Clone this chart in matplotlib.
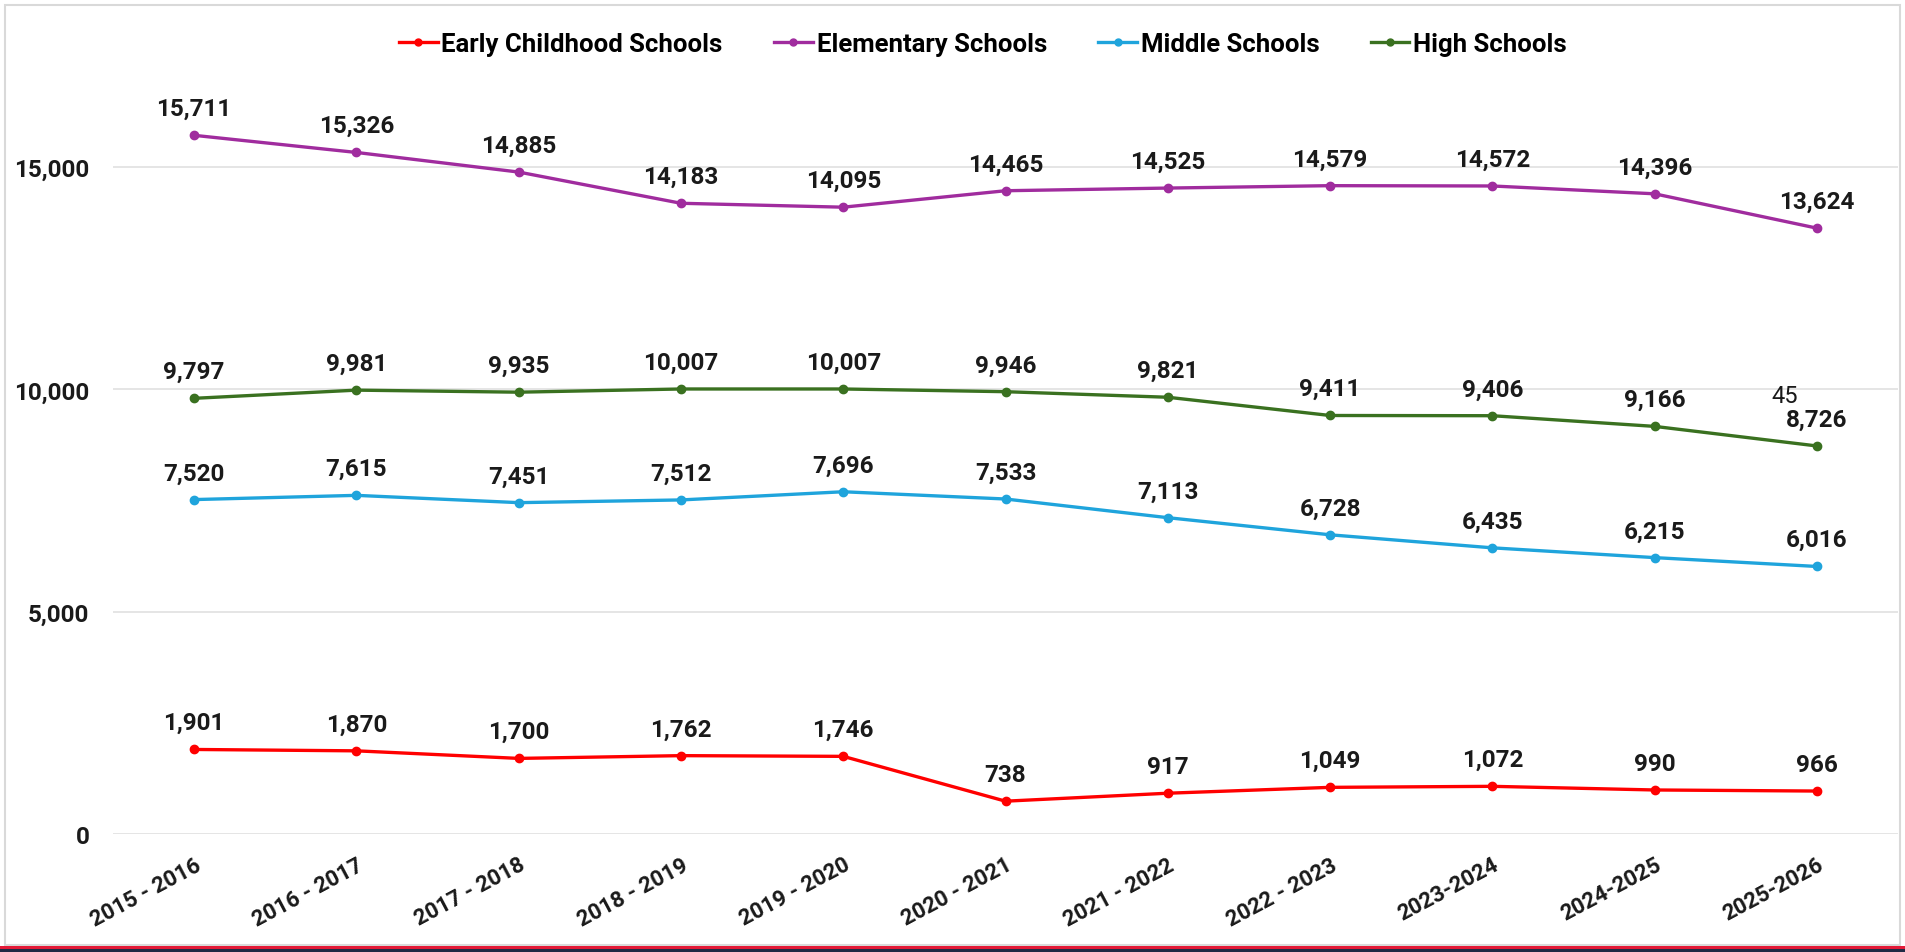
import matplotlib
matplotlib.use("Agg")
import matplotlib.pyplot as plt
from matplotlib.patches import Rectangle
from matplotlib.lines import Line2D

plt.rcParams["font.family"] = ["Roboto", "DejaVu Sans"]

years = ["2015 - 2016", "2016 - 2017", "2017 - 2018", "2018 - 2019", "2019 - 2020",
         "2020 - 2021", "2021 - 2022", "2022 - 2023", "2023-2024", "2024-2025", "2025-2026"]
early = [1901, 1870, 1700, 1762, 1746, 738, 917, 1049, 1072, 990, 966]
elementary = [15711, 15326, 14885, 14183, 14095, 14465, 14525, 14579, 14572, 14396, 13624]
middle = [7520, 7615, 7451, 7512, 7696, 7533, 7113, 6728, 6435, 6215, 6016]
high = [9797, 9981, 9935, 10007, 10007, 9946, 9821, 9411, 9406, 9166, 8726]

series = [
    ("Early Childhood Schools", early, "#FF0000"),
    ("Elementary Schools", elementary, "#A02C9E"),
    ("Middle Schools", middle, "#1FA4DC"),
    ("High Schools", high, "#3A7120"),
]

W, H = 1905, 953
fig = plt.figure(figsize=(W / 100, H / 100), dpi=100)

# outer frame + bottom brand stripe
fig.patches.append(Rectangle((5 / W, 7 / H), 1895 / W, 940 / H, transform=fig.transFigure,
                             fill=False, edgecolor="#D9D9D9", lw=1.5))
fig.patches.append(Rectangle((0, 0), 1, 3 / H, transform=fig.transFigure,
                             facecolor="#1F2A44", edgecolor="none"))
fig.patches.append(Rectangle((0, 3 / H), 1, 3 / H, transform=fig.transFigure,
                             facecolor="#E31937", edgecolor="none"))

ax = fig.add_axes([113 / W, (H - 835) / H, 1785 / W, 756 / H])
x = list(range(len(years)))

for name, vals, col in series:
    ax.plot(x, vals, color=col, lw=2.4, marker="o", ms=6, zorder=3, label=name)
    for xi, v in zip(x, vals):
        ax.annotate(f"{v:,}", (xi, v), xytext=(0, 11), textcoords="offset points",
                    ha="center", va="bottom", fontsize=17.5, fontweight="bold",
                    color="#1A1A1A", zorder=4)

# stray label present in the source image
ax.text(9.80, 9850, "45", ha="center", va="center", fontsize=17, color="#1A1A1A")

ax.set_xlim(-0.5, 10.5)
ax.set_ylim(0, 17000)
ax.set_yticks([0, 5000, 10000, 15000])
ax.set_yticklabels([f"{t:,}" for t in [0, 5000, 10000, 15000]],
                   fontsize=17.5, fontweight="bold", color="#1A1A1A")
ax.set_xticks(x)
ax.set_xticklabels(years, rotation=28, ha="right", rotation_mode="anchor",
                   fontsize=16, fontweight="bold", color="#1A1A1A")
ax.tick_params(axis="y", length=0, pad=17)
ax.tick_params(axis="x", length=0, pad=14)
ax.grid(axis="y", color="#E0E0E0", lw=1.2)
ax.set_axisbelow(True)
for s in ax.spines.values():
    s.set_visible(False)

handles = [Line2D([0], [0], color=c, lw=2.4, marker="o", ms=5) for _, _, c in series]
fig.legend(handles, [n for n, _, _ in series], loc="center", ncol=4,
           bbox_to_anchor=(0.516, 1 - 45 / H), frameon=False,
           prop={"size": 18.5, "weight": "bold"}, handlelength=1.5,
           handletextpad=0.15, columnspacing=2.0)

fig.savefig("out.png", dpi=100, facecolor="white")
